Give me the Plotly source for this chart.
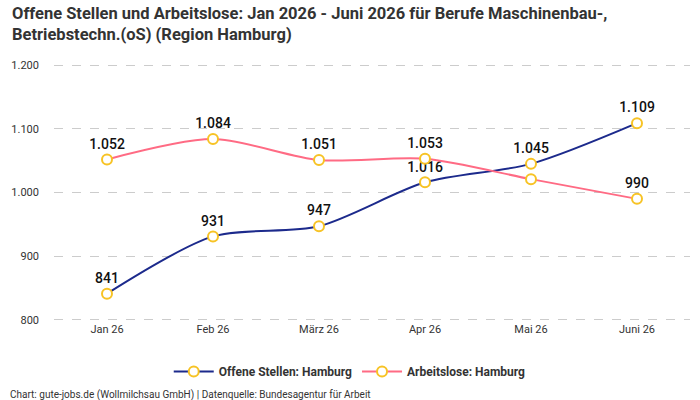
import plotly.graph_objects as go

months = ["Jan 26", "Feb 26", "März 26", "Apr 26", "Mai 26", "Juni 26"]
offene = [841, 931, 947, 1016, 1045, 1109]
arbeitslose = [1052, 1084, 1051, 1053, 1021, 990]
arbeitslose_labels = ["1.052", "1.084", "1.051", "1.053", "", "990"]

def fmt(v):
    return f"{v:,}".replace(",", ".")

FONT = "Liberation Sans Narrow, Roboto, sans-serif"
MARK = dict(size=10, color="white", line=dict(color="#f7c325", width=2))
LABEL = dict(size=14, color="#111", family="Roboto, sans-serif", weight=500)

fig = go.Figure()
fig.add_trace(go.Scatter(
    x=months, y=offene, name="Offene Stellen: Hamburg",
    mode="lines+markers+text",
    line=dict(color="#1c2a8c", width=2, shape="spline", smoothing=0.8),
    marker=MARK,
    text=[fmt(v) for v in offene], textposition="top center",
    textfont=LABEL, cliponaxis=False,
))
fig.add_trace(go.Scatter(
    x=months, y=arbeitslose, name="Arbeitslose: Hamburg",
    mode="lines+markers+text",
    line=dict(color="#ff6b84", width=2, shape="spline", smoothing=0.8),
    marker=MARK,
    text=arbeitslose_labels, textposition="top center",
    textfont=LABEL, cliponaxis=False,
))

fig.update_layout(
    width=700, height=400,
    margin=dict(l=54, r=10, t=64, b=79),
    plot_bgcolor="white", paper_bgcolor="white",
    separators=",.",
    font=dict(family="Roboto, sans-serif", size=12, color="#333"),
    xaxis=dict(type="category", range=[-0.5, 5.5], showgrid=False, showline=False,
               ticks="", tickfont=dict(size=11, color="#333")),
    yaxis=dict(range=[798, 1202], tickvals=[800, 900, 1000, 1100, 1200],
               tickformat=",d", showgrid=True,
               gridcolor="#cccccc", griddash="dash", zeroline=False,
               tickfont=dict(size=11, color="#333"), ticklabelstandoff=14),
    legend=dict(orientation="h", x=0.465, xanchor="center", y=-0.14, yanchor="top",
                font=dict(size=12, color="#333", family=FONT, weight="bold"),
                itemwidth=40),
    showlegend=True,
)
fig.add_annotation(
    text="<b>Offene Stellen und Arbeitslose: Jan 2026 - Juni 2026 für Berufe Maschinenbau-,<br>Betriebstechn.(oS) (Region Hamburg)</b>",
    xref="paper", yref="paper", x=-0.069, y=1.24, xanchor="left", yanchor="top",
    align="left", showarrow=False, font=dict(size=16.5, color="#333", family=FONT))
fig.add_annotation(
    text="Chart: gute-jobs.de (Wollmilchsau GmbH) | Datenquelle: Bundesagentur für Arbeit",
    xref="paper", yref="paper", x=-0.072, y=-0.255, xanchor="left", yanchor="top",
    showarrow=False, font=dict(size=10, color="#333"))
fig.write_html("out.html")
